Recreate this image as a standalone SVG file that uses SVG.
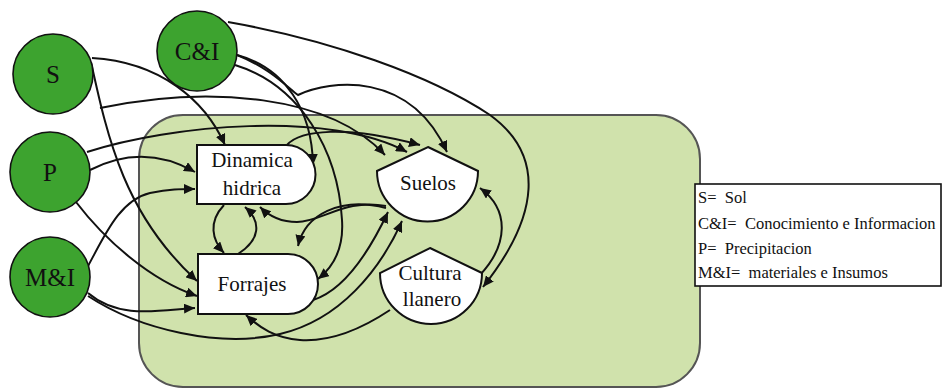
<svg xmlns="http://www.w3.org/2000/svg" width="945" height="388" viewBox="0 0 945 388">
<style>
.ext{fill:#3da32f;stroke:#111;stroke-width:1.6}
.node{fill:#fff;stroke:#111;stroke-width:2}
.lbl{font-family:"Liberation Serif","Times New Roman",serif;font-size:21px;fill:#111;text-anchor:middle}
.clbl{font-family:"Liberation Serif","Times New Roman",serif;font-size:25px;fill:#111;text-anchor:middle}
.leg{font-family:"Liberation Serif","Times New Roman",serif;font-size:16.5px;fill:#111}
.e{fill:none;stroke:#111;stroke-width:2;marker-end:url(#ah)}
</style>
<defs>
<marker id="ah" markerUnits="userSpaceOnUse" markerWidth="12" markerHeight="10" refX="11" refY="5" orient="auto">
<path d="M0,0 L11,5 L0,10 Z" fill="#111"/>
</marker>
</defs>
<rect id="container" x="139" y="115" width="561" height="272" rx="44" fill="#d0e2ac" stroke="#555" stroke-width="2"/>
<g id="connectors">
<path class="e" d="M92,58 C160,62 205,100 225,145"/>
<path class="e" d="M100,108 C210,85 330,95 385,155"/>
<path class="e" d="M91,62 C108,140 125,215 197,281"/>
<path class="e" d="M87,152 C170,125 330,110 407,152"/>
<path class="e" d="M90,170 C125,152 160,152 195,172"/>
<path class="e" d="M76,202 C105,240 150,280 197,296"/>
<path class="e" d="M88,266 C105,235 120,200 150,193 C170,189 180,189 195,189"/>
<path class="e" d="M88,293 C120,320 160,310 195,308"/>
<path class="e" d="M88,296 C140,330 220,348 280,334 C340,320 380,270 402,221"/>
<path class="e" d="M237,55 C285,68 312,110 313,165"/>
<path class="e" d="M235,65 C300,85 338,150 342,220 C344,250 332,268 318,279"/>
<path class="e" d="M237,55 C270,68 288,88 298,95 C330,80 410,70 447,152"/>
<path class="e" d="M228,22 C330,40 430,75 490,115 C545,155 540,215 483,287"/>
<path class="e" d="M287,145 C300,130 345,125 420,145"/>
<path class="e" d="M224,205 C208,222 212,240 224,253"/>
<path class="e" d="M238,254 C260,240 262,222 245,207"/>
<path class="e" d="M386,206 C345,198 322,222 297,222 C280,222 268,215 260,207"/>
<path class="e" d="M386,208 C340,196 305,215 298,246"/>
<path class="e" d="M313,300 C345,290 370,250 388,212"/>
<path class="e" d="M480,275 C508,245 510,210 480,188"/>
<path class="e" d="M390,310 C360,330 330,342 300,340 C275,338 260,328 246,315"/>
</g>
<g id="S"><circle class="ext" cx="53" cy="74" r="40"/><text class="clbl" x="53" y="83">S</text></g>
<g id="CI"><circle class="ext" cx="197" cy="51" r="40"/><text class="clbl" x="197" y="60">C&amp;I</text></g>
<g id="P"><circle class="ext" cx="50" cy="172" r="40"/><text class="clbl" x="50" y="181">P</text></g>
<g id="MI"><circle class="ext" cx="50" cy="277" r="40"/><text class="clbl" x="50" y="286">M&amp;I</text></g>
<g id="dinamica"><path class="node" d="M197,145 H286 A29.5,29.5 0 0 1 286,204 H197 Z"/><text class="lbl" x="252" y="167">Dinamica</text><text class="lbl" x="252" y="195">hidrica</text></g>
<g id="forrajes"><path class="node" d="M198,254 H288 A30,30 0 0 1 288,314 H198 Z"/><text class="lbl" x="252" y="291">Forrajes</text></g>
<g id="suelos"><path class="node" d="M428,147 L478,171 A50.5,50.5 0 0 1 377,171 Z"/><text class="lbl" x="428" y="190">Suelos</text></g>
<g id="cultura"><path class="node" d="M430,248 L482,273 A51,51 0 0 1 380,273 Z"/><text class="lbl" x="430" y="280">Cultura</text><text class="lbl" x="432" y="306">llanero</text></g>
<g id="legend">
<rect x="695" y="184" width="246" height="102" fill="#fff" stroke="#111" stroke-width="1.6"/>
<text class="leg" x="698" y="203" xml:space="preserve">S=  Sol</text>
<text class="leg" x="698" y="229" xml:space="preserve">C&amp;I=  Conocimiento e Informacion</text>
<text class="leg" x="698" y="254" xml:space="preserve">P=  Precipitacion</text>
<text class="leg" x="698" y="278" xml:space="preserve">M&amp;I=  materiales e Insumos</text>
</g>
</svg>
